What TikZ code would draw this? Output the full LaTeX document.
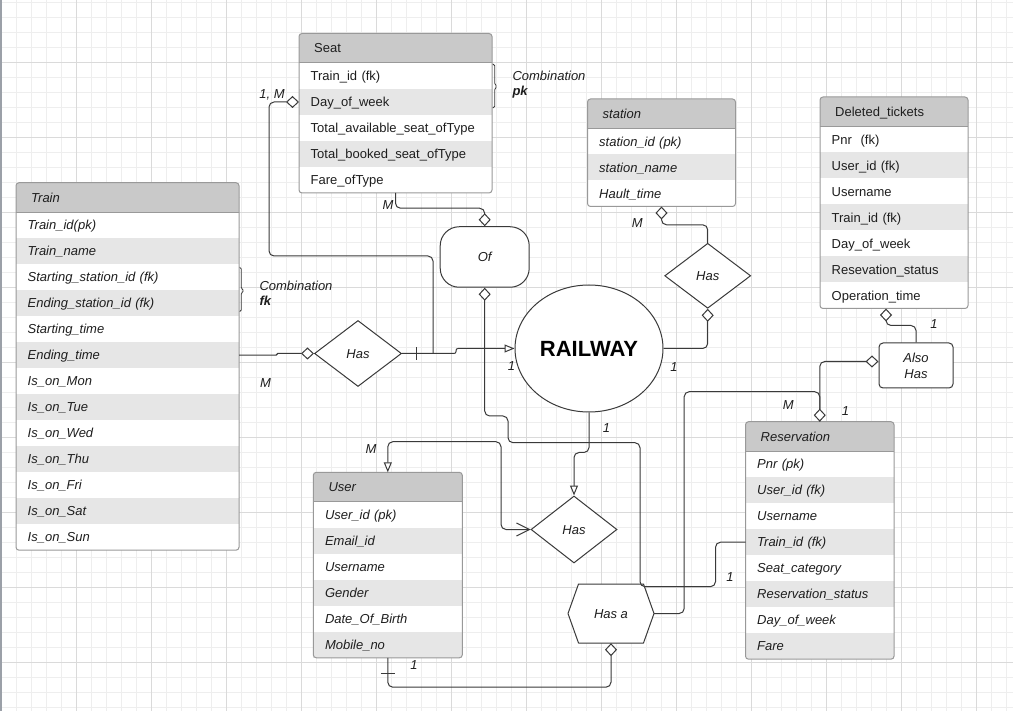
\documentclass[tikz,border=0pt]{standalone}
\usepackage{fontspec}
\setmainfont{Liberation Sans}
\usetikzlibrary{shapes.geometric,arrows.meta,calc}
\definecolor{hdrc}{HTML}{C9C9C9}
\definecolor{altc}{HTML}{E6E6E6}
\definecolor{frmc}{HTML}{999999}
\definecolor{lnc}{HTML}{3A3A3A}
\definecolor{txc}{HTML}{1E1E1E}
\definecolor{gminc}{HTML}{EEEEEE}
\definecolor{gmajc}{HTML}{DADADA}
\definecolor{edgec}{HTML}{9BA0A8}
\newcommand\erfs{\fontsize{13}{15.6}\selectfont}
\tikzset{
  dmd/.tip={Diamond[fill=white,length=13pt,width=12pt]},
  otri/.tip={Triangle[fill=white,length=10pt,width=8pt]},
  barb/.tip={Straight Barb[length=13pt,width=13pt]},
  conn/.style={draw=lnc,line width=1pt,rounded corners=5pt},
  rowcell/.style={anchor=north west,minimum height=26pt,inner xsep=11.7pt,inner ysep=0pt,
    outer sep=0pt,text height=9.3pt,text depth=0pt,align=left,text=txc},
  ttlcell/.style={anchor=west,inner sep=0pt,text height=9.3pt,text depth=0pt,text=txc},
  reld/.style={diamond,draw=lnc,fill=white,line width=1pt,minimum width=87pt,minimum height=66pt,
    inner sep=0pt,aspect=1.3,font=\erfs\itshape,text height=9.3pt,text depth=0pt,text=txc},
  lbl/.style={inner sep=0pt,font=\erfs\itshape,text height=9.3pt,text depth=0pt,text=txc},
  brc/.style={draw=lnc,line width=0.8pt,rounded corners=1.5pt},
}
\newcommand\ertable[8]{%
  \pgfmathsetmacro\ertabh{29.5+26*#5}%
  \pgfmathsetmacro\ertw{#4-23.4}%
  \fill[white] (#2,#3) rectangle ++(#4,\ertabh);
  \fill[hdrc,rounded corners=3pt] (#2,#3) rectangle ++(#4,29.5);
  \fill[hdrc] (#2,#3+15) rectangle ++(#4,14.5);
  \node[ttlcell,font=\erfs#6] (#1-h) at (#2+15,#3+14.75) {#7};
  \foreach \r [count=\i from 0] in {#8} {%
    \pgfmathsetmacro\yy{#3+29.5+26*\i}%
    \ifodd\i \def\rf{altc}\else\def\rf{white}\fi
    \node[rowcell,fill=\rf,text width=\ertw pt,font=\erfs#6] (#1-\i) at (#2,\yy) {\r};
  }%
  \draw[frmc,line width=1pt] (#2,#3+29.5) -- ++(#4,0);
  \node[draw=frmc,line width=1pt,rounded corners=3pt,anchor=north west,minimum width=#4pt,
    minimum height=\ertabh pt,inner sep=0pt,outer sep=0pt] (#1) at (#2,#3) {};
}
\begin{document}
\begin{tikzpicture}[x=1pt,y=-1pt]
\useasboundingbox (0,0) rectangle (1013,711);
\fill[white] (0,0) rectangle (1013,711);
% grid
\foreach \gx in {1,16,...,1012} \draw[gminc,line width=1pt] (\gx,0) -- (\gx,711);
\foreach \gy in {2.5,17.5,...,710} \draw[gminc,line width=1pt] (0,\gy) -- (1013,\gy);
\foreach \gx in {76,151,...,1012} \draw[gmajc,line width=1pt] (\gx,0) -- (\gx,711);
\foreach \gy in {62.5,137.5,...,710} \draw[gmajc,line width=1pt] (0,\gy) -- (1013,\gy);
\draw[edgec,line width=1.5pt] (0.75,0) -- (0.75,711);

% tables
\ertable{seat}{299}{33.5}{193}{5}{\upshape}{Seat}{Train\_id (fk),Day\_of\_week,Total\_available\_seat\_ofType,Total\_booked\_seat\_ofType,Fare\_ofType}
\ertable{train}{16}{182.7}{223}{13}{\itshape}{Train}{Train\_id(pk),Train\_name,Starting\_station\_id (fk),Ending\_station\_id (fk),Starting\_time,Ending\_time,Is\_on\_Mon,Is\_on\_Tue,Is\_on\_Wed,Is\_on\_Thu,Is\_on\_Fri,Is\_on\_Sat,Is\_on\_Sun}
\ertable{station}{587.5}{99}{148}{3}{\itshape}{station}{station\_id (pk),station\_name,Hault\_time}
\ertable{del}{820}{97}{148}{7}{\upshape}{Deleted\_tickets}{Pnr\ \ (fk),User\_id (fk),Username,Train\_id (fk),Day\_of\_week,Resevation\_status,Operation\_time}
\ertable{res}{745.5}{421.7}{148.5}{8}{\itshape}{Reservation}{Pnr (pk),User\_id (fk),Username,Train\_id (fk),Seat\_category,Reservation\_status,Day\_of\_week,Fare}
\ertable{user}{313.3}{472.3}{149}{6}{\itshape}{User}{User\_id (pk),Email\_id,Username,Gender,Date\_Of\_Birth,Mobile\_no}

% relationship shapes
\node[reld] (hasT) at (358,353.5) {Has};
\node[reld,minimum width=86pt,minimum height=65pt] (hasS) at (707.7,275.8) {Has};
\node[reld,minimum width=86pt,minimum height=67pt] (hasU) at (574,529.5) {Has};
\node[draw=lnc,fill=white,line width=1pt,rounded corners=19pt,minimum width=89pt,minimum height=60.5pt,
  inner sep=0pt,font=\erfs\itshape,text height=9.3pt,text depth=0pt,text=txc] (of) at (484.7,257) {Of};
\node[ellipse,draw=lnc,fill=white,line width=1pt,minimum width=148pt,minimum height=127pt,inner sep=0pt,
  font=\bfseries\fontsize{22}{22}\selectfont,text=black] (rail) at (589,348.5) {RAILWAY};
\node[draw=lnc,fill=white,line width=1pt,rounded corners=4pt,minimum width=74pt,minimum height=45pt,
  inner sep=0pt,align=center,font=\itshape\fontsize{13}{16}\selectfont,text=txc] (also) at (916,365.5) {Also\\Has};
\coordinate (hA) at (611,613.5);
\draw[draw=lnc,fill=white,line width=1pt,line join=round]
  ($(hA)+(-43,0)$) -- ($(hA)+(-32.5,-29.5)$) -- ($(hA)+(32.5,-29.5)$) -- ($(hA)+(43,0)$)
  -- ($(hA)+(32.5,29.5)$) -- ($(hA)+(-32.5,29.5)$) -- cycle;
\node[minimum width=86pt,minimum height=59pt,inner sep=0pt,font=\erfs\itshape,text height=9.3pt,
  text depth=0pt,text=txc] (hasA) at (hA) {Has a};

% connectors
\draw[conn,dmd-] (seat-1.west) -| (269,256) -| ($(hasT.east)+(31,0)$);
\draw[conn,rounded corners=1pt,-dmd] (train-5.east) -- ++(38,0) |- (hasT.west);
\draw[conn,rounded corners=2pt,-otri] (hasT.east) -- ++(54,0) |- (rail.west);
\draw[lnc,line width=1pt] ($(hasT.east)+(14.5,-6)$) -- ++(0,13);
\draw[conn,-dmd] (seat.south) |- ($(of.north)+(0,-18)$) -- (of.north);
\draw[conn,dmd-] (of.south) |- (508,416) |- (640,442.7) |- (715.5,586.7) |- (res-3.west);
\draw[conn,dmd-] (station.south) |- ($(hasS.north)+(0,-18)$) -- (hasS.north);
\draw[conn,dmd-] (hasS.south) |- (rail.east);
\draw[conn,-otri] (rail.south) |- ($(hasU.north)+(0,-43)$) -- (hasU.north);
\draw[conn,otri-barb] (user.north) |- (501,441.7) |- (hasU.west);
\draw[conn,dmd-] (hasA.south) -- ++(0,44) -| (user.south);
\draw[lnc,line width=1pt] ($(user.south)+(-7,15.5)$) -- ++(14,0);
\draw[conn,dmd-] ($(also.west)+(0,-4)$) -| (res.north);
\draw[conn,-dmd] (hasA.east) -- ++(30,0) |- ($(res.north)+(0,-30)$) -- (res.north);
\draw[conn,dmd-] ($(del.south)+(-8,0)$) |- ($(also.north)+(0,-17)$) -- (also.north);

% braces
\draw[brc] ($(seat-0.north east)+(0.5,1.3)$) -- ++(2.3,0) -- ++(0,20.5) -- ++(2.5,1.7) -- ++(-2.5,1.7) -- ++(0,19.5) -- ++(-2.3,0);
\draw[brc] ($(train-2.north east)+(0.5,3.2)$) -- ++(1.8,0) -- ++(0,21.5) -- ++(3,1.8) -- ++(-3,1.8) -- ++(0,19) -- ++(-1.8,0);
\node[anchor=base west,inner sep=0pt,font=\erfs\itshape,text=txc] (cpk) at (512.3,81) {Combination};
\node[anchor=base west,inner sep=0pt,font=\erfs\bfseries\itshape,text=txc] (cpk2) at (512.3,95.7) {pk};
\node[anchor=base west,inner sep=0pt,font=\erfs\itshape,text=txc] (cfk) at (259.3,290.3) {Combination};
\node[anchor=base west,inner sep=0pt,font=\erfs\bfseries\itshape,text=txc] (cfk2) at (259.3,305.7) {fk};

% cardinality labels
\node[lbl] (l1) at (272,94) {1, M};
\node[lbl] (l2) at (388,204.7) {M};
\node[lbl] (l3) at (265.5,383) {M};
\node[lbl] (l4) at (511.5,366) {1};
\node[lbl] (l5) at (674,366.5) {1};
\node[lbl] (l6) at (606.5,428) {1};
\node[lbl] (l7) at (637.3,223.3) {M};
\node[lbl] (l8) at (934,324.3) {1};
\node[lbl] (l9) at (788.3,405) {M};
\node[lbl] (l10) at (845.5,410.5) {1};
\node[lbl] (l11) at (371,449.3) {M};
\node[lbl] (l12) at (414,665) {1};
\node[lbl] (l13) at (730,577.3) {1};
\end{tikzpicture}
\end{document}
